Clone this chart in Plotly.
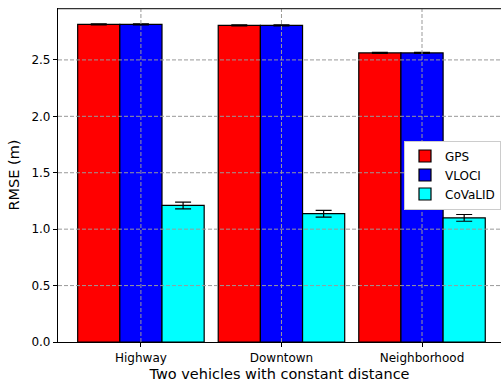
import plotly.graph_objects as go

# Scenario categories and per-method RMSE (m) with standard deviation
categories = ["Highway", "Downtown", "Neighborhood"]
gps_rmse = [2.815, 2.806, 2.562]
gps_err = [0.004, 0.004, 0.004]
vloci_rmse = [2.815, 2.806, 2.562]
vloci_err = [0.004, 0.004, 0.004]
covalid_rmse = [1.21, 1.137, 1.10]
covalid_err = [0.03, 0.03, 0.03]

y_ticks = [0.0, 0.5, 1.0, 1.5, 2.0, 2.5]
x_pos = list(range(len(categories)))
x_range = [-0.59, 2.562]
y_range = [0, 2.96]

series = [
    ("GPS", gps_rmse, gps_err, "#ff0000"),
    ("VLOCI", vloci_rmse, vloci_err, "#0000ff"),
    ("CoVaLID", covalid_rmse, covalid_err, "#00ffff"),
]

fig = go.Figure()
for name, vals, errs, color in series:
    fig.add_trace(go.Bar(
        x=x_pos, y=vals, name=name,
        marker=dict(color=color, line=dict(color="black", width=1.2)),
        error_y=dict(type="data", array=errs, visible=True,
                     color="black", thickness=1.2, width=8),
    ))

# dashed grid drawn as line traces so it sits on top of the bars
gx, gy = [], []
for v in y_ticks[1:]:
    gx += [x_range[0], x_range[1], None]
    gy += [v, v, None]
for v in x_pos:
    gx += [v, v, None]
    gy += [y_range[0], y_range[1], None]
fig.add_trace(go.Scatter(x=gx, y=gy, mode="lines", showlegend=False, hoverinfo="skip",
                         line=dict(color="#999999", width=1, dash="4px,2px")))

# top frame edge (the right edge falls outside the canvas)
fig.add_trace(go.Scatter(x=x_range, y=[y_range[1], y_range[1]], mode="lines",
                         showlegend=False, hoverinfo="skip",
                         line=dict(color="#333333", width=2.4)))

font_family = "DejaVu Sans"
fig.update_layout(
    width=501, height=385,
    margin=dict(l=58, r=0, t=8, b=43),
    paper_bgcolor="white", plot_bgcolor="white",
    barmode="group", bargap=0.1, bargroupgap=0,
    font=dict(family=font_family, size=12, color="black"),
    legend=dict(x=1.0, xanchor="right", y=0.5, yanchor="middle",
                bgcolor="white", bordercolor="#cccccc", borderwidth=1,
                font=dict(size=12), tracegroupgap=0),
    xaxis=dict(
        range=x_range, tickvals=x_pos, ticktext=categories,
        showgrid=False, zeroline=False, showline=True, linecolor="black",
        linewidth=1.2, mirror=False, ticks="outside", ticklen=4, tickcolor="black",
        title=dict(text="Two vehicles with constant distance", font=dict(size=14.5), standoff=5),
    ),
    yaxis=dict(
        range=y_range, tickvals=y_ticks, ticktext=[f"{v:.1f}" for v in y_ticks],
        showgrid=False, zeroline=False, showline=True, linecolor="black",
        linewidth=1.2, ticks="outside", ticklen=4, tickcolor="black",
        title=dict(text="RMSE (m)", font=dict(size=14.5), standoff=8),
    ),
)

fig.write_html("out.html")
